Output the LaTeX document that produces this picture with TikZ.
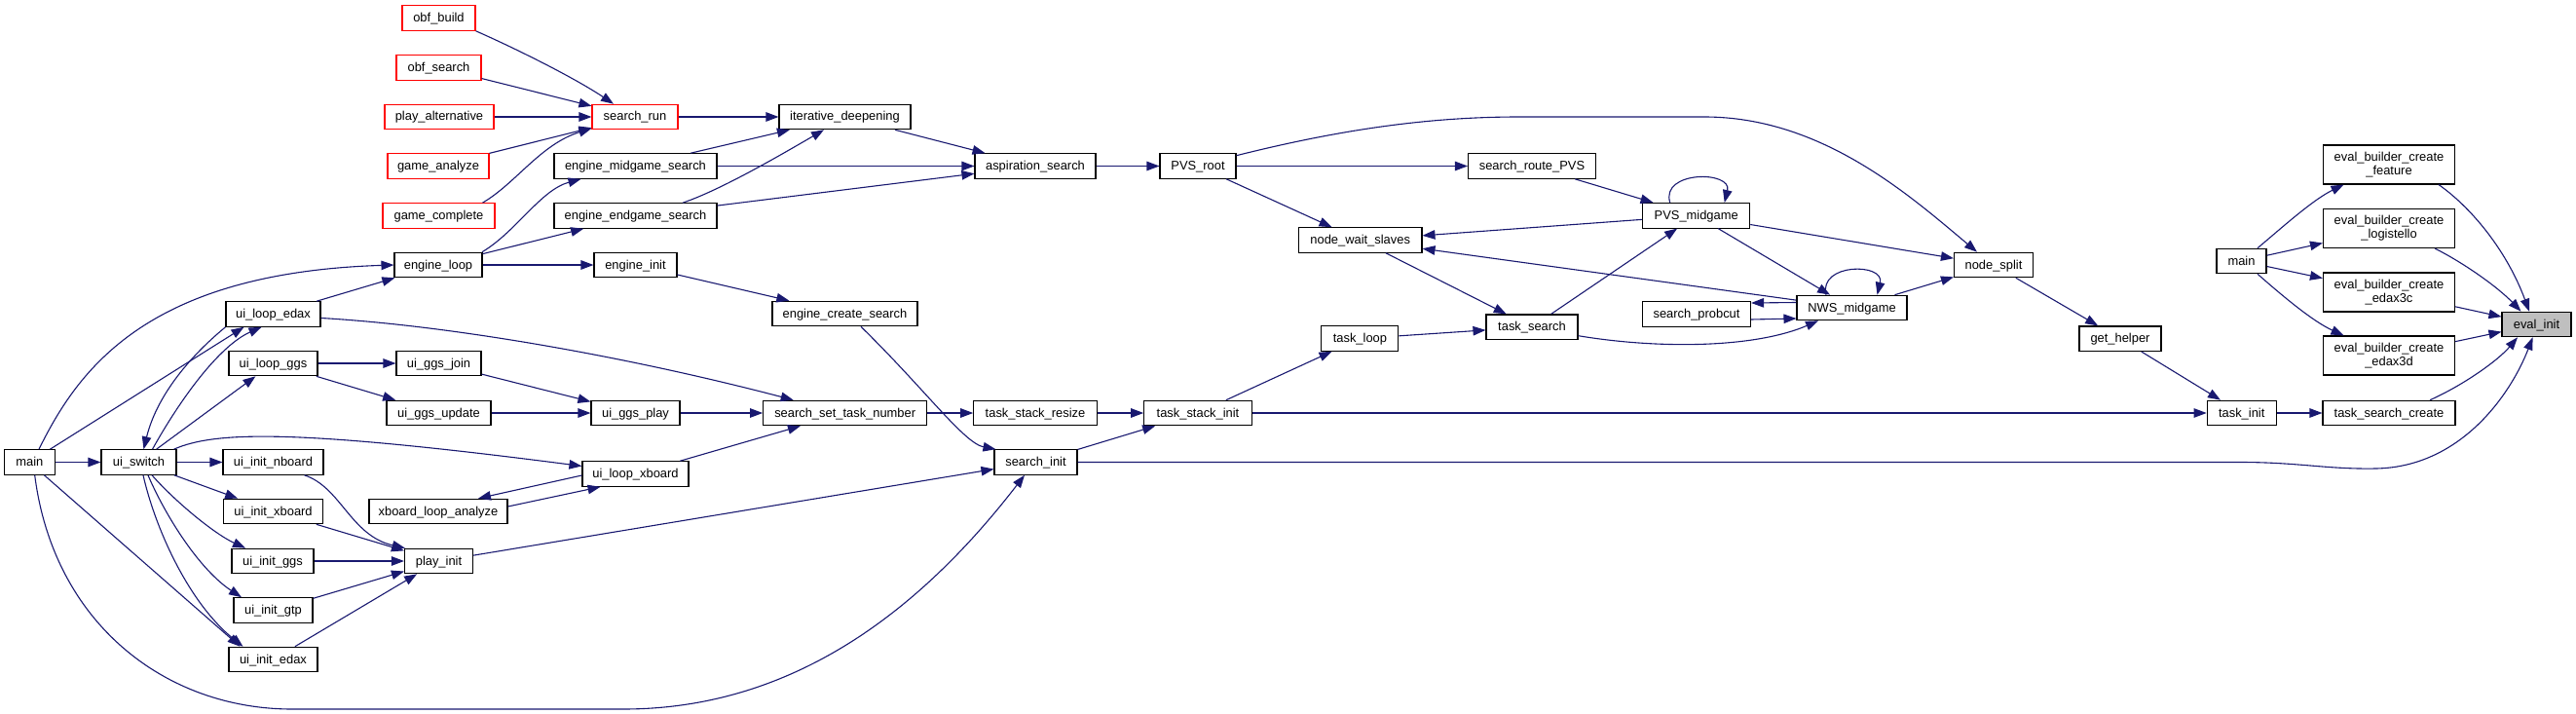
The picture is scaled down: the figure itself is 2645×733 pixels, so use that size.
\documentclass[tikz,border=0pt]{standalone}
\usepackage{fontspec}
\setmainfont{Liberation Sans}
\usetikzlibrary{arrows.meta}
\definecolor{edgec}{HTML}{191970}
\definecolor{redc}{HTML}{FF0000}
\definecolor{greyc}{HTML}{BFBFBF}
\tikzset{
  fn/.style={draw=black, fill=white, line width=1.1pt, inner sep=0pt, minimum height=25.5pt,
    text height=10.5pt, text depth=2.5pt, font=\fontsize{12.9pt}{14.3pt}\selectfont},
  fntwo/.style={draw=black, fill=white, line width=1.1pt, inner sep=0pt, minimum height=40pt,
    minimum width=135pt, align=center, font=\fontsize{12.9pt}{14.3pt}\selectfont},
  redbox/.style={draw=redc},
  cur/.style={fill=greyc},
  ed/.style={draw=edgec, line width=1.1pt, -{Triangle[length=13pt,width=9.5pt]}},
}
\begin{document}
\begin{tikzpicture}[x=1pt,y=-1pt]
\useasboundingbox (0,0) rectangle (2645,733);
% nodes
\node[fn,redbox,minimum width=75pt] (obfbuild) at (450.5,18.5) {obf\_build};
\node[fn,redbox,minimum width=87pt] (obfsearch) at (450.5,69.5) {obf\_search};
\node[fn,redbox,minimum width=112pt] (playalt) at (451,120) {play\_alternative};
\node[fn,redbox,minimum width=104pt] (gameanalyze) at (450,170.5) {game\_analyze};
\node[fn,redbox,minimum width=115pt] (gamecomplete) at (450.5,221.5) {game\_complete};
\node[fn,redbox,minimum width=88pt] (searchrun) at (652,120) {search\_run};
\node[fn,minimum width=167pt] (emg) at (652.5,170.5) {engine\_midgame\_search};
\node[fn,minimum width=167pt] (eeg) at (652.5,221.5) {engine\_endgame\_search};
\node[fn,minimum width=90pt] (engineloop) at (450,272) {engine\_loop};
\node[fn,minimum width=85pt] (engineinit) at (652.5,272) {engine\_init};
\node[fn,minimum width=97pt] (ule) at (280.5,322.5) {ui\_loop\_edax};
\node[fn,minimum width=135pt] (itd) at (867.5,120) {iterative\_deepening};
\node[fn,minimum width=124pt] (asp) at (1063,170.5) {aspiration\_search};
\node[fn,minimum width=78pt] (pvsroot) at (1230,170.5) {PVS\_root};
\node[fn,minimum width=149pt] (ecs) at (867.5,322) {engine\_create\_search};
\node[fn,minimum width=91pt] (ulg) at (280.5,373) {ui\_loop\_ggs};
\node[fn,minimum width=87pt] (ugj) at (450.5,373) {ui\_ggs\_join};
\node[fn,minimum width=107pt] (ugu) at (450.5,424) {ui\_ggs\_update};
\node[fn,minimum width=91pt] (ugp) at (652.5,424) {ui\_ggs\_play};
\node[fn,minimum width=51.3pt] (main) at (30.4,474.5) {main};
\node[fn,minimum width=77pt] (uisw) at (142.5,474.5) {ui\_switch};
\node[fn,minimum width=103pt] (uin) at (280.5,474.5) {ui\_init\_nboard};
\node[fn,minimum width=109pt] (ulx) at (652.5,486.5) {ui\_loop\_xboard};
\node[fn,minimum width=142pt] (xla) at (450,525) {xboard\_loop\_analyze};
\node[fn,minimum width=102pt] (uix) at (280.5,525) {ui\_init\_xboard};
\node[fn,minimum width=84pt] (uig) at (280,576) {ui\_init\_ggs};
\node[fn,minimum width=70pt] (playinit) at (450.5,576) {play\_init};
\node[fn,minimum width=81pt] (uigtp) at (280.5,626.5) {ui\_init\_gtp};
\node[fn,minimum width=91pt] (uie) at (280.5,677) {ui\_init\_edax};
\node[fn,minimum width=168pt] (sstn) at (867.7,424) {search\_set\_task\_number};
\node[fn,minimum width=126.5pt] (tsr) at (1063,424) {task\_stack\_resize};
\node[fn,minimum width=110.5pt] (tsi) at (1230,424) {task\_stack\_init};
\node[fn,minimum width=85pt] (sinit) at (1063.5,474.5) {search\_init};
\node[fn,minimum width=131pt] (srp) at (1573,170.5) {search\_route\_PVS};
\node[fn,minimum width=110pt] (pvsm) at (1741.7,221.3) {PVS\_midgame};
\node[fn,minimum width=126.5pt] (nws) at (1396.7,246.5) {node\_wait\_slaves};
\node[fn,minimum width=113pt] (nwsm) at (1901.5,316) {NWS\_midgame};
\node[fn,minimum width=111pt] (sprob) at (1742,322.5) {search\_probcut};
\node[fn,minimum width=94pt] (tsearch) at (1573,335.7) {task\_search};
\node[fn,minimum width=79pt] (tloop) at (1396.4,347.5) {task\_loop};
\node[fn,minimum width=81pt] (nsplit) at (2047,272) {node\_split};
\node[fn,minimum width=84pt] (gethelper) at (2177,347.7) {get\_helper};
\node[fn,minimum width=51pt] (mainr) at (2301.5,268) {main};
\node[fntwo] (ebf) at (2453,169) {eval\_builder\_create\\\_feature};
\node[fntwo] (ebl) at (2453,234.5) {eval\_builder\_create\\\_logistello};
\node[fntwo] (eb3c) at (2453,300) {eval\_builder\_create\\\_edax3c};
\node[fntwo] (eb3d) at (2453,365) {eval\_builder\_create\\\_edax3d};
\node[fn,cur,minimum width=71pt] (evalinit) at (2604.5,333) {eval\_init};
\node[fn,minimum width=71pt] (taskinit) at (2301.7,424) {task\_init};
\node[fn,minimum width=136pt] (tsc) at (2453,424) {task\_search\_create};
% edges
\draw[ed] (obfbuild.south east) .. controls (530,50) and (590,80) .. ([xshift=-22pt]searchrun.north);
\draw[ed] (obfsearch) -- (searchrun);
\draw[ed] (playalt) -- (searchrun);
\draw[ed] (gameanalyze) -- (searchrun);
\draw[ed] ([xshift=45pt]gamecomplete.north) .. controls (530,188) and (555,148) .. ([yshift=1.5pt]searchrun.south west);
\draw[ed] (searchrun) -- (itd);
\draw[ed] (emg) -- (itd);
\draw[ed] ([xshift=48.5pt]eeg.north) .. controls (740,195) and (800,160) .. ([xshift=-21.5pt]itd.south);
\draw[ed] (emg) -- (asp);
\draw[ed] (eeg) -- (asp);
\draw[ed] (itd) -- (asp);
\draw[ed] (asp) -- (pvsroot);
\draw[ed] ([xshift=45pt]engineloop.north) .. controls (530,238) and (555,195) .. ([xshift=-56pt]emg.south);
\draw[ed] (engineloop) -- (eeg);
\draw[ed] (engineloop) -- (engineinit);
\draw[ed] (engineinit) -- (ecs);
\draw[ed] ([xshift=16.5pt]ecs.south) .. controls (950,400) and (990,455) .. ([xshift=2pt]sinit.north west);
\draw[ed] (ule) -- (engineloop);
\draw[ed] ([xshift=9.6pt]main.north) .. controls (80,380) and (150,280) .. (engineloop.west);
\draw[ed] ([xshift=21pt]main.north) -- ([xshift=-30pt]ule.south);
\draw[ed] (ule.south west) .. controls (190,370) and (160,410) .. ([xshift=5pt]uisw.north);
\draw[ed] ([xshift=14pt]uisw.north) .. controls (185,410) and (225,355) .. ([xshift=-12pt]ule.south);
\draw[ed] (uisw) -- (ulg);
\draw[ed] (ulg) -- (ugj);
\draw[ed] (ulg) -- (ugu);
\draw[ed] (ugj) -- (ugp);
\draw[ed] (ugu) -- (ugp);
\draw[ed] (ugp) -- (sstn);
\draw[ed] ([yshift=-4pt]ule.east) .. controls (460,334) and (640,365) .. ([xshift=-53pt]sstn.north);
\draw[ed] (ulx) -- (sstn);
\draw[ed] (sstn) -- (tsr);
\draw[ed] (tsr) -- (tsi);
\draw[ed] (sinit) -- (tsi);
\draw[ed] (tsi) -- (tloop);
\draw[ed] (tsi) -- (taskinit);
\draw[ed] (sinit.east) -- (2300,474.5) .. controls (2360,474.5) and (2390,482) .. (2440,481) .. controls (2530,479) and (2580,400) .. ([xshift=-4pt]evalinit.south);
\draw[ed] (main) -- (uisw);
\draw[ed] (uisw) -- (uin);
\draw[ed] ([xshift=36pt]uisw.north) .. controls (220,443) and (300,440) .. ([yshift=8pt]ulx.west);
\draw[ed] (uisw) -- (uix);
\draw[ed] ([xshift=13.5pt]uisw.south) .. controls (180,515) and (220,548) .. ([xshift=-28pt]uig.north);
\draw[ed] ([xshift=9.5pt]uisw.south) .. controls (170,530) and (205,585) .. ([xshift=-32.5pt]uigtp.north);
\draw[ed] ([xshift=4.5pt]uisw.south) .. controls (160,545) and (195,620) .. ([xshift=-31pt]uie.north);
\draw[ed] ([xshift=15pt]main.south) -- ([xshift=-34pt]uie.north);
\draw[ed] ([xshift=5.3pt]main.south) .. controls (55,640) and (170,728) .. (300,728) -- (640,728) .. controls (820,728) and (950,620) .. ([xshift=-11.5pt]sinit.south);
\draw[ed] ([yshift=-1.5pt]ulx.west) -- ([xshift=41pt]xla.north);
\draw[ed] ([yshift=5pt]xla.east) -- ([xshift=-36pt]ulx.south);
\draw[ed] ([xshift=32pt]uin.south) .. controls (350,500) and (360,550) .. ([xshift=1pt]playinit.north west);
\draw[ed] (uix) -- (playinit);
\draw[ed] (uig) -- (playinit);
\draw[ed] (uigtp) -- (playinit);
\draw[ed] (uie) -- (playinit);
\draw[ed] (playinit) -- (sinit);
\draw[ed] (pvsroot) -- (srp);
\draw[ed] (pvsroot) -- (nws);
\draw[ed] ([yshift=-2.5pt]pvsroot.north east) .. controls (1380,132) and (1470,120) .. (1560,120) -- (1750,120) .. controls (1870,120) and (1960,200) .. ([xshift=-17pt]nsplit.north);
\draw[ed] (srp) -- (pvsm);
\draw[ed] ([xshift=-27pt]pvsm.north) .. controls +(-10,-33) and +(8,-33) .. ([xshift=29pt]pvsm.north);
\draw[ed] (pvsm) -- (nws);
\draw[ed] (pvsm) -- (nwsm);
\draw[ed] (pvsm) -- (nsplit);
\draw[ed] ([xshift=-26.5pt]nwsm.north) .. controls +(-8,-33) and +(8,-33) .. ([xshift=26pt]nwsm.north);
\draw[ed] (nwsm) -- (nws);
\draw[ed] ([yshift=5.5pt]nwsm.west) -- ([yshift=11.5pt]sprob.east);
\draw[ed] ([yshift=-5.5pt]sprob.east) -- ([yshift=-11pt]nwsm.west);
\draw[ed] (nwsm) -- (nsplit);
\draw[ed] (nws) -- (tsearch);
\draw[ed] (tloop) -- (tsearch);
\draw[ed] (tsearch) -- (pvsm);
\draw[ed] ([yshift=-9pt]tsearch.east) .. controls (1700,358) and (1800,358) .. ([xshift=-34.5pt]nwsm.south);
\draw[ed] (nsplit) -- (gethelper);
\draw[ed] (gethelper) -- (taskinit);
\draw[ed] (taskinit) -- (tsc);
\draw[ed] ([xshift=42pt]tsc.north) .. controls (2530,395) and (2565,370) .. ([xshift=-19.5pt]evalinit.south);
\draw[ed] ([xshift=16.5pt]mainr.north) .. controls (2345,232) and (2375,205) .. ([xshift=-46.5pt]ebf.south);
\draw[ed] (mainr) -- (ebl);
\draw[ed] (mainr) -- (eb3c);
\draw[ed] ([xshift=16.5pt]mainr.south) .. controls (2345,305) and (2375,330) .. ([xshift=-46.5pt]eb3d.north);
\draw[ed] ([xshift=51pt]ebf.south) .. controls (2540,215) and (2575,260) .. ([xshift=-7.5pt]evalinit.north);
\draw[ed] ([xshift=47pt]ebl.south) .. controls (2530,270) and (2565,295) .. ([xshift=-16pt]evalinit.north);
\draw[ed] (eb3c) -- (evalinit);
\draw[ed] (eb3d) -- (evalinit);
\end{tikzpicture}
\end{document}
